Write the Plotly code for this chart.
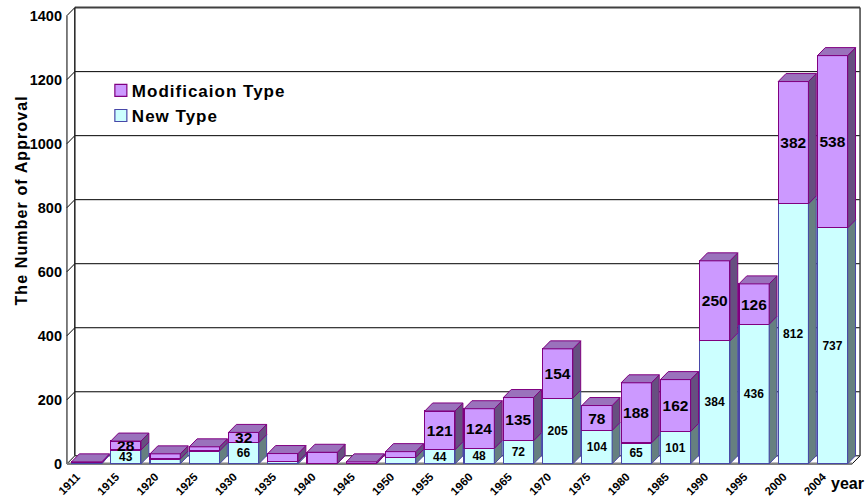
import plotly.graph_objects as go

years = ["1911","1915","1920","1925","1930","1935","1940","1945","1950","1955",
         "1960","1965","1970","1975","1980","1985","1990","1995","2000","2004"]
new_type = [3,43,15,40,66,6,1,1,20,44,48,72,205,104,65,101,384,436,812,737]
mod_type = [3,28,16,13,32,26,35,5,18,121,124,135,154,78,188,162,250,126,382,538]
new_labels = ["","43","","","66","","","","","44","48","72","205","104","65","101","384","436","812","737"]
mod_labels = ["","28","","","32","","","","","121","124","135","154","78","188","162","250","126","382","538"]
y_ticks = [0,200,400,600,800,1000,1200,1400]

BAR_W = 0.77
DX, DY = 0.2, 25
X0, X1 = -0.5, 19.5
HW = BAR_W / 2
LABEL_SHIFT = 0.25
idx = list(range(len(years)))
FONT = "Liberation Sans, Arial, sans-serif"
MOD_FILL, MOD_LINE, MOD_SIDE, MOD_TOP = "#CC99FF", "#800080", "#664F80", "#9A72BC"
NEW_FILL, NEW_LINE, NEW_SIDE = "#CCFFFF", "#4848A8", "#668080"

def polys(faces):
    xs, ys = [], []
    for f in faces:
        xs += [p[0] for p in f] + [f[0][0], None]
        ys += [p[1] for p in f] + [f[0][1], None]
    return xs, ys

def face_trace(faces, fill, line):
    xs, ys = polys(faces)
    return go.Scatter(x=xs, y=ys, mode="lines", fill="toself", fillcolor=fill,
                      line=dict(color=line, width=1), showlegend=False,
                      hoverinfo="skip", cliponaxis=False)

new_side, mod_side, tops = [], [], []
for i, n, m in zip(idx, new_type, mod_type):
    r = i + HW
    l = i - HW
    new_side.append([(r,0),(r+DX,DY),(r+DX,n+DY),(r,n)])
    mod_side.append([(r,n),(r+DX,n+DY),(r+DX,n+m+DY),(r,n+m)])
    tops.append([(l,n+m),(r,n+m),(r+DX,n+m+DY),(l+DX,n+m+DY)])

fig = go.Figure()
fig.add_trace(go.Bar(name="New Type", x=idx, y=new_type, width=BAR_W,
    marker=dict(color=NEW_FILL, line=dict(color=NEW_LINE, width=1.2)),
    text=new_labels, textposition="inside", insidetextanchor="middle", constraintext="none",
    textangle=0, textfont=dict(family=FONT, size=12, color="black", weight="bold")))
fig.add_trace(go.Bar(name="Modificaion Type", x=idx, y=mod_type, width=BAR_W,
    marker=dict(color=MOD_FILL, line=dict(color=MOD_LINE, width=1.2)),
    text=mod_labels, textposition="inside", insidetextanchor="middle", constraintext="none",
    textangle=0, textfont=dict(family=FONT, size=15.5, color="black", weight="bold")))
fig.add_trace(face_trace(new_side, NEW_SIDE, NEW_LINE))
fig.add_trace(face_trace(mod_side, MOD_SIDE, MOD_LINE))
fig.add_trace(face_trace(tops, MOD_TOP, MOD_LINE))

shapes = []
def seg(x0, y0, x1, y1, color="black", width=1):
    shapes.append(dict(type="line", layer="below", xref="x", yref="y", x0=x0, y0=y0, x1=x1, y1=y1,
                       line=dict(color=color, width=width)))
for v in y_ticks:
    seg(X0+DX, v+DY, X1+DX, v+DY, "#404040" if v == 1400 else "black", 2 if v == 1400 else 1)
    seg(X0, v, X0+DX, v+DY)
seg(X0, 0, X0, 1400)
seg(X0+DX, DY, X0+DX, 1400+DY, "#202020", 1.5)
seg(X1+DX, DY, X1+DX, 1400+DY, "#404040", 1.5)
seg(X1, 0, X1+DX, DY)
seg(X0, 0, X1, 0, "#808080", 2.5)

fig.update_layout(
    width=866, height=499, paper_bgcolor="white", plot_bgcolor="white",
    margin=dict(l=64.7, r=4.1, t=5.9, b=32.3, autoexpand=False),
    barmode="stack", shapes=shapes,
    xaxis=dict(range=[-0.55, 19.75], tickmode="array", tickvals=[i - LABEL_SHIFT for i in idx], ticktext=years,
               tickangle=-45, showgrid=False, zeroline=False, showline=False, ticks="",
               automargin=False,
               tickfont=dict(family=FONT, size=11.5, color="black", weight="bold")),
    yaxis=dict(range=[-10, 1430], tickmode="array", tickvals=y_ticks, showgrid=False,
               zeroline=False, showline=False, ticks="", automargin=False, ticklabelstandoff=2,
               tickfont=dict(family=FONT, size=14.5, color="black", weight="bold")),
    legend=dict(x=0.0337, y=0.855, xanchor="left", yanchor="top", traceorder="reversed",
                bgcolor="rgba(0,0,0,0)", itemclick=False, itemdoubleclick=False,
                font=dict(family=FONT, size=17, color="black", weight="bold")),
    annotations=[
        dict(text="The Number of Approval", xref="paper", yref="paper", x=-0.0548, y=0.579,
             xanchor="center", yanchor="middle", textangle=-90, showarrow=False,
             font=dict(family=FONT, size=16, color="black", weight="bold")),
        dict(text="year", xref="paper", yref="paper", x=1.005, y=-0.035,
             xanchor="right", yanchor="middle", showarrow=False,
             font=dict(family=FONT, size=16, color="black", weight="bold")),
    ],
)
post = """
document.body.style.margin='0';document.body.style.overflow='hidden';
document.querySelectorAll('.legendtext').forEach(function(t){t.style.letterSpacing='1px';});
document.querySelectorAll('.legendsymbols').forEach(function(t){t.setAttribute('transform','translate(9,0)');});
document.querySelectorAll('.legend .scrollbox').forEach(function(t){t.removeAttribute('clip-path');t.style.clipPath='none';});
document.querySelectorAll('.annotation-text').forEach(function(t){if(t.textContent.indexOf('Approval')>=0)t.style.letterSpacing='1.1px';});
"""
fig.write_html("out.html", post_script=post, config=dict(displayModeBar=False))
